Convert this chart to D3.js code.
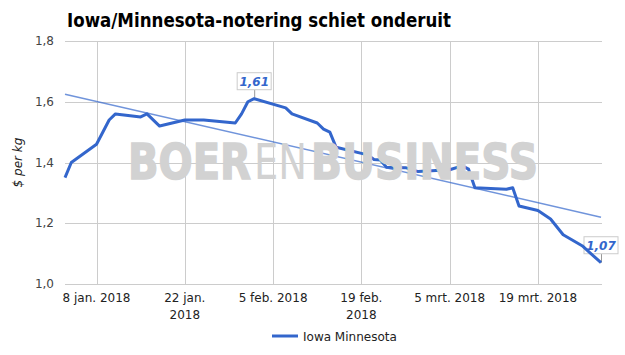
<!DOCTYPE html>
<html>
<head>
<meta charset="utf-8">
<script src="https://cdn.jsdelivr.net/npm/d3@7"></script>
<style>
  body { margin: 0; background: #fff; }
  svg { display: block; font-family: "DejaVu Sans", Verdana, sans-serif; }
</style>
</head>
<body>
<div id="chart"></div>
<script>
// Iowa/Minnesota notering, $ per kg
const dates = ["2018-01-03","2018-01-04","2018-01-08","2018-01-10","2018-01-11","2018-01-15",
  "2018-01-16","2018-01-18","2018-01-22","2018-01-25","2018-01-30","2018-01-31","2018-02-01",
  "2018-02-02","2018-02-07","2018-02-08","2018-02-12","2018-02-13","2018-02-14","2018-02-15",
  "2018-02-20","2018-02-21","2018-02-22","2018-02-23","2018-02-26","2018-02-28","2018-03-05",
  "2018-03-07","2018-03-08","2018-03-09","2018-03-14","2018-03-15","2018-03-16","2018-03-19",
  "2018-03-21","2018-03-23","2018-03-26","2018-03-29"];
const prices = [1.35,1.40,1.46,1.54,1.56,1.55,
  1.56,1.52,1.54,1.54,1.53,1.56,1.60,
  1.61,1.58,1.56,1.53,1.51,1.50,1.45,
  1.425,1.41,1.408,1.384,1.383,1.37,1.376,
  1.389,1.378,1.317,1.312,1.317,1.257,1.242,
  1.214,1.162,1.126,1.07];
// trendlijn (begin- en eindwaarde)
const trendDates = ["2018-01-03","2018-03-29"];
const trendValues = [1.625,1.22];
const yTicks = [1.0,1.2,1.4,1.6,1.8];
const xTickDates = ["2018-01-08","2018-01-22","2018-02-05","2018-02-19","2018-03-05","2018-03-19"];
const xTickLabels = [["8 jan. 2018"],["22 jan.","2018"],["5 feb. 2018"],["19 feb.","2018"],["5 mrt. 2018"],["19 mrt. 2018"]];
const annotated = ["2018-02-02","2018-03-29"];
const seriesName = "Iowa Minnesota";
// watermerk-delen
const wmParts = ["BOER","EN","BUSINESS"];
const wmWeights = ["bold","normal","bold"];
const wmX = [128,254,311];
const wmW = [123,53,227];

const parse = d3.timeParse("%Y-%m-%d");
const data = dates.map((d, i) => ({ date: parse(d), v: prices[i], key: d }));
const trend = trendDates.map((d, i) => ({ date: parse(d), v: trendValues[i] }));
const comma = v => d3.format(".1f")(v).replace(".", ",");
const comma2 = v => d3.format(".2f")(v).replace(".", ",");

const W = 625, H = 355;
const margin = { top: 41, right: 23, bottom: 71, left: 65 };
const width = W - margin.left - margin.right,
      height = H - margin.top - margin.bottom;

const svg = d3.select("#chart").append("svg")
  .attr("width", W).attr("height", H);

// titel
svg.append("text")
  .attr("x", 67).attr("y", 27)
  .attr("font-size", 19).attr("font-weight", "bold")
  .attr("fill", "#000")
  .attr("textLength", 384).attr("lengthAdjust", "spacingAndGlyphs")
  .text("Iowa/Minnesota-notering schiet onderuit");

const g = svg.append("g").attr("transform", `translate(${margin.left},${margin.top})`);

const x = d3.scaleTime()
  .domain([parse("2018-01-03"), parse("2018-03-29")])
  .range([0, width - 1]);
const y = d3.scaleLinear().domain([1.0, 1.8]).range([height, 0]);

// gridlines
g.append("g").selectAll("line").data(yTicks).join("line")
  .attr("x1", 0).attr("x2", width)
  .attr("y1", d => Math.round(y(d)) + 0.5).attr("y2", d => Math.round(y(d)) + 0.5)
  .attr("stroke", "#ccc");
g.append("g").selectAll("line").data(xTickDates).join("line")
  .attr("x1", d => Math.round(x(parse(d))) + 0.5).attr("x2", d => Math.round(x(parse(d))) + 0.5)
  .attr("y1", 0).attr("y2", height)
  .attr("stroke", "#ccc");

// y-as labels
g.append("g").selectAll("text").data(yTicks).join("text")
  .attr("x", -11).attr("y", d => y(d) + 4)
  .attr("text-anchor", "end").attr("font-size", 12).attr("fill", "#444")
  .text(comma);

// x-as labels
const xl = g.append("g").selectAll("text").data(xTickDates).join("text")
  .attr("x", d => x(parse(d)))
  .attr("y", height + 18)
  .attr("text-anchor", "middle").attr("font-size", 12).attr("fill", "#222");
xl.each(function(d, i) {
  d3.select(this).selectAll("tspan").data(xTickLabels[i]).join("tspan")
    .attr("x", x(parse(d)))
    .attr("dy", (t, j) => j === 0 ? 0 : 16.5)
    .text(t => t);
});

// as titel
svg.append("text")
  .attr("transform", `translate(22,${margin.top + height / 2}) rotate(-90)`)
  .attr("text-anchor", "middle").attr("font-size", 12).attr("font-style", "italic")
  .attr("fill", "#222")
  .text("$ per kg");

// watermerk (een tekst, drie delen)
svg.append("text")
  .attr("y", 179)
  .attr("font-family", "DejaVu Sans, sans-serif")
  .attr("font-size", 50)
  .attr("fill", "#d2d2d2")
  .selectAll("tspan").data(wmParts).join("tspan")
  .attr("x", (d, i) => wmX[i])
  .attr("font-weight", (d, i) => wmWeights[i])
  .attr("stroke", (d, i) => wmWeights[i] === "bold" ? "#d2d2d2" : "none")
  .attr("stroke-width", 1.5)
  .attr("textLength", (d, i) => wmW[i]).attr("lengthAdjust", "spacingAndGlyphs")
  .text(d => d);

// trendlijn
const line = d3.line().x(d => x(d.date)).y(d => y(d.v));
g.append("path").datum(trend)
  .attr("d", line).attr("fill", "none")
  .attr("stroke", "#3366cc").attr("stroke-opacity", 0.7).attr("stroke-width", 1.5);

// annotaties
const ann = data.filter(d => annotated.includes(d.key));
const ag = g.append("g").selectAll("g").data(ann).join("g")
  .attr("transform", d => `translate(${x(d.date)},${y(d.v)})`);
ag.append("line")
  .attr("x1", 0.5).attr("x2", 0.5).attr("y1", 0).attr("y2", -9)
  .attr("stroke", "#999");
ag.append("rect")
  .attr("x", -17).attr("y", -26).attr("width", 34).attr("height", 17)
  .attr("fill", "#fff").attr("stroke", "#ccc");
ag.append("text")
  .attr("y", -13).attr("text-anchor", "middle")
  .attr("font-size", 12).attr("font-weight", "bold").attr("font-style", "italic")
  .attr("fill", "#3366cc")
  .text(d => comma2(d.v));

// reeks
g.append("path").datum(data)
  .attr("d", line).attr("fill", "none")
  .attr("stroke", "#3366cc").attr("stroke-width", 3)
  .attr("stroke-linejoin", "round");

// legenda
const lg = svg.append("g").attr("transform", "translate(272,336)");
lg.append("line").attr("x1", 0).attr("x2", 26).attr("y1", 0).attr("y2", 0)
  .attr("stroke", "#3366cc").attr("stroke-width", 3);
lg.append("text").attr("x", 31).attr("y", 4.5)
  .attr("font-size", 12).attr("fill", "#222")
  .text(seriesName);
</script>
</body>
</html>
